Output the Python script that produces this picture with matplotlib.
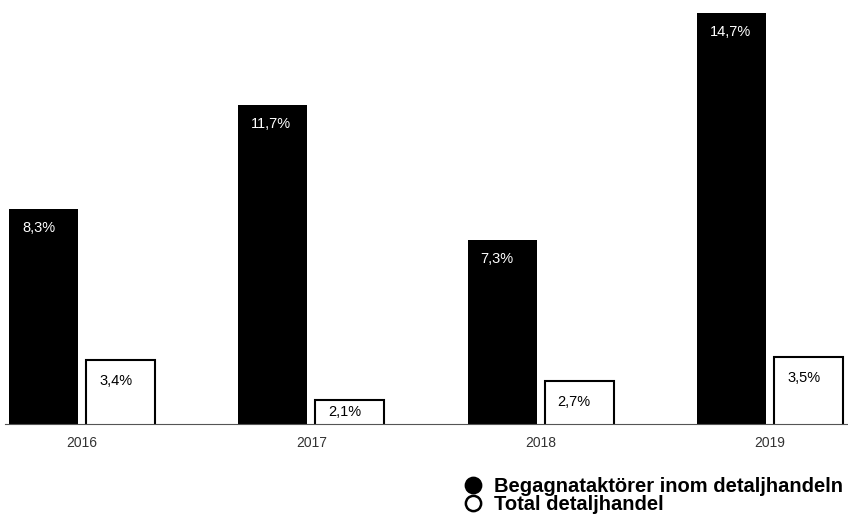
# tillvaxt_begagnat.py

import numpy as np
import matplotlib.pyplot as plt
from matplotlib.lines import Line2D

plt.rcParams['font.family'] = ['Liberation Sans', 'DejaVu Sans']

years = ["2016", "2017", "2018", "2019"]
begagnat = [8.3, 11.7, 7.3, 14.7]
total = [3.4, 2.1, 2.7, 3.5]
labels_begagnat = ["8,3%", "11,7%", "7,3%", "14,7%"]
labels_total = ["3,4%", "2,1%", "2,7%", "3,5%"]
legend_names = ["Begagnataktörer inom detaljhandeln", "Total detaljhandel"]


fig = plt.figure(figsize = (8.48, 5.16), dpi = 100)
ax = fig.add_axes([0.0059, 0.1783, 0.9941, 0.8217])

x = np.arange(len(years))
w = 0.301
off = 0.168

b1 = ax.bar(x - off, begagnat, w, color = "black", zorder = 2)
b2 = ax.bar(x + off, total, w, color = "white", edgecolor = "black", linewidth = 1.5, zorder = 2)

ax.set_xlim(-0.336, 3.34)
ax.set_ylim(1.316, 15.12)
fig.canvas.draw()

# labels sit in the upper left corner of each bar
def put_labels(bars, texts, color, dy):
    for bar, txt in zip(bars, texts):
        top = bar.get_height()
        h = ax.transData.transform((0, top))[1] - ax.transData.transform((0, 1.316))[1]
        ax.annotate(txt, xy = (bar.get_x(), top), xytext = (13, -min(dy, h / 2)),
                    textcoords = "offset pixels", ha = "left", va = "center",
                    color = color, fontsize = 10.5, zorder = 3)

put_labels(b1, labels_begagnat, "white", 19)
put_labels(b2, labels_total, "black", 21)

ax.set_xticks(x, years)
ax.tick_params(axis = "x", length = 0, pad = 9, labelsize = 10, labelcolor = "#333333")
ax.set_yticks([])
for s in ["top", "left", "right"]:
    ax.spines[s].set_visible(False)
ax.spines["bottom"].set_color("#555555")
ax.spines["bottom"].set_linewidth(0.8)

handles = [Line2D([], [], marker = "o", linestyle = "none", markersize = 11,
                  markerfacecolor = "black", markeredgecolor = "black", markeredgewidth = 1.8),
           Line2D([], [], marker = "o", linestyle = "none", markersize = 11,
                  markerfacecolor = "white", markeredgecolor = "black", markeredgewidth = 1.8)]
fig.legend(handles, legend_names, loc = "upper left", bbox_to_anchor = (0.546, 0.076),
           frameon = False, borderpad = 0, borderaxespad = 0, handlelength = 1,
           handletextpad = 0.55, labelspacing = -0.06,
           prop = {"weight": "bold", "size": 14.5})

plt.savefig("out.png", dpi = 100)
